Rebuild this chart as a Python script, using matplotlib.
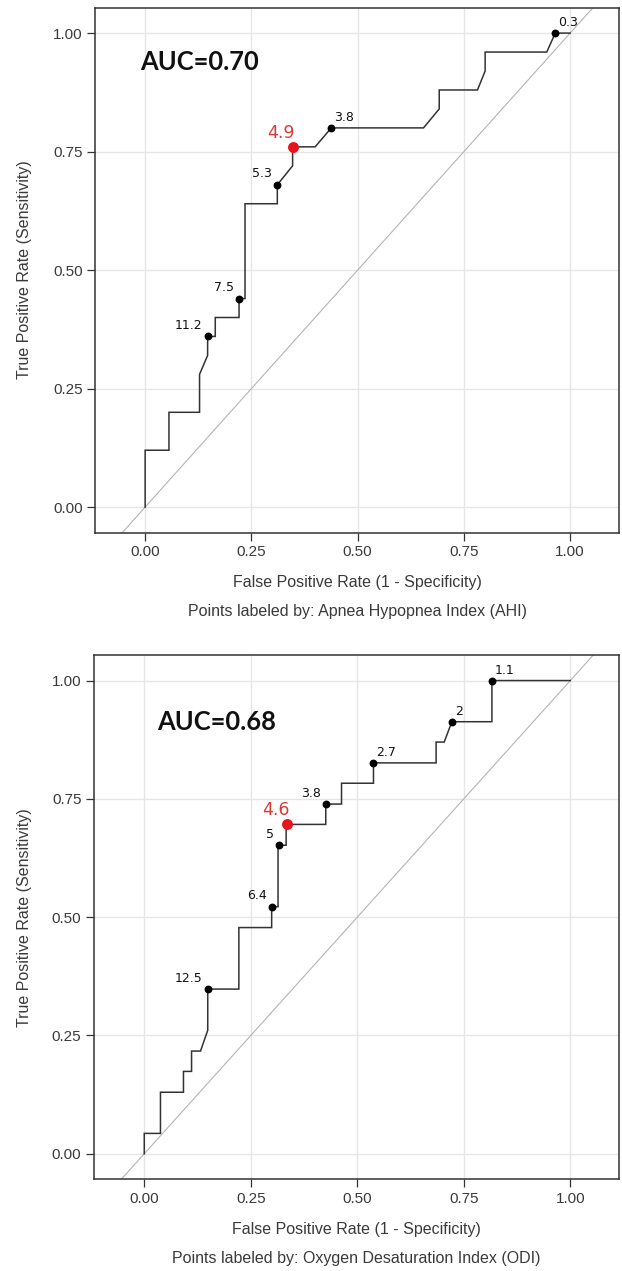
import matplotlib
matplotlib.use("Agg")
import matplotlib.pyplot as plt
from matplotlib.lines import Line2D

# ---------------- data ----------------
# Panel 1: Apnea Hypopnea Index (AHI)
fpr_ahi = [0, 0, 0.056, 0.056, 0.128, 0.128, 0.147, 0.147, 0.165, 0.165, 0.221, 0.221,
           0.235, 0.235, 0.311, 0.311, 0.347, 0.347, 0.40, 0.438, 0.655, 0.692, 0.692,
           0.782, 0.80, 0.80, 0.945, 0.965, 1.0]
tpr_ahi = [0, 0.12, 0.12, 0.20, 0.20, 0.28, 0.32, 0.36, 0.36, 0.40, 0.40, 0.44,
           0.44, 0.64, 0.64, 0.68, 0.72, 0.76, 0.76, 0.80, 0.80, 0.84, 0.88,
           0.88, 0.92, 0.96, 0.96, 1.0, 1.0]
lab_fpr_ahi = [0.147, 0.221, 0.311, 0.438, 0.965]
lab_tpr_ahi = [0.36, 0.44, 0.68, 0.80, 1.0]
lab_txt_ahi = ["11.2", "7.5", "5.3", "3.8", "0.3"]
opt_fpr_ahi, opt_tpr_ahi, opt_txt_ahi = 0.347, 0.76, "4.9"
auc_ahi = "AUC=0.70"
sub_ahi = "Points labeled by: Apnea Hypopnea Index (AHI)"

# Panel 2: Oxygen Desaturation Index (ODI)
fpr_odi = [0, 0, 0.038, 0.038, 0.092, 0.092, 0.111, 0.111, 0.132, 0.149, 0.149, 0.222,
           0.222, 0.299, 0.299, 0.314, 0.314, 0.333, 0.333, 0.426, 0.426, 0.463, 0.463,
           0.538, 0.538, 0.685, 0.685, 0.704, 0.722, 0.816, 0.816, 1.0]
tpr_odi = [0, 0.043, 0.043, 0.130, 0.130, 0.174, 0.174, 0.217, 0.217, 0.261, 0.348, 0.348,
           0.478, 0.478, 0.522, 0.522, 0.652, 0.652, 0.696, 0.696, 0.739, 0.739, 0.783,
           0.783, 0.826, 0.826, 0.870, 0.870, 0.913, 0.913, 1.0, 1.0]
lab_fpr_odi = [0.149, 0.299, 0.316, 0.426, 0.538, 0.722, 0.816]
lab_tpr_odi = [0.348, 0.522, 0.652, 0.739, 0.826, 0.913, 1.0]
lab_txt_odi = ["12.5", "6.4", "5", "3.8", "2.7", "2", "1.1"]
opt_fpr_odi, opt_tpr_odi, opt_txt_odi = 0.336, 0.696, "4.6"
auc_odi = "AUC=0.68"
sub_odi = "Points labeled by: Oxygen Desaturation Index (ODI)"

ticks = [0.0, 0.25, 0.5, 0.75, 1.0]
tick_labels = ["0.00", "0.25", "0.50", "0.75", "1.00"]

# ---------------- figure ----------------
W, H = 622, 1271
fig = plt.figure(figsize=(W / 100, H / 100), dpi=100)

def px_axes(l, t, r, b):
    return [l / W, 1 - b / H, (r - l) / W, (b - t) / H]

LINE = "#333333"
GRID = "#e6e6e6"
DIAG = "#b4b4b4"
RED = "#e8141c"
RED_TXT = "#d93a35"
TXTC = "#3a3a3a"
PX = 0.72  # points per pixel

def panel(rect, fpr, tpr, lfpr, ltpr, ltxt, ofpr, otpr, otxt, auc, auc_xy, sub,
          right_labels):
    ax = fig.add_axes(px_axes(*rect))
    ax.set_xlim(-0.118, 1.115)
    ax.set_ylim(-0.054, 1.054)
    ax.set_xticks(ticks)
    ax.set_xticklabels(tick_labels)
    ax.set_yticks(ticks)
    ax.set_yticklabels(tick_labels)
    ax.grid(True, color=GRID, linewidth=1.0, zorder=0)
    ax.set_axisbelow(True)
    for s in ax.spines.values():
        s.set_color(LINE)
        s.set_linewidth(1.1)
    ax.tick_params(direction="out", length=6, width=0.9, color=LINE,
                   labelsize=11, labelcolor=TXTC, pad=3)
    for lab in ax.get_xticklabels() + ax.get_yticklabels():
        lab.set_family("Liberation Sans")
    # reference diagonal
    ax.add_line(Line2D([-0.3, 1.3], [-0.3, 1.3], color=DIAG, linewidth=0.8, zorder=1))
    # ROC curve
    ax.plot(fpr, tpr, color=LINE, linewidth=1.1, zorder=2, solid_joinstyle="miter")
    ax.scatter(lfpr, ltpr, s=32, color="black", zorder=3, linewidths=0)
    for x, y, t in zip(lfpr, ltpr, ltxt):
        if t in right_labels:
            ax.annotate(t, (x, y), xytext=(3 * PX, 10.5 * PX), textcoords="offset points",
                        ha="left", va="center", fontsize=9, color="#111111",
                        family="DejaVu Sans", zorder=4)
        else:
            ax.annotate(t, (x, y), xytext=(-5 * PX, 11 * PX), textcoords="offset points",
                        ha="right", va="center", fontsize=9, color="#111111",
                        family="DejaVu Sans", zorder=4)
    ax.scatter([ofpr], [otpr], s=62, color=RED, zorder=3, linewidths=0)
    ax.annotate(otxt, (ofpr, otpr), xytext=(2 * PX, 14 * PX), textcoords="offset points",
                ha="right", va="center", fontsize=12.5, color=RED_TXT,
                family="DejaVu Sans", zorder=4)
    ax.text(auc_xy[0], auc_xy[1], auc, ha="left", va="center", fontsize=18.4,
            fontweight="bold", family="Lato", color="#111111", zorder=4)
    ax.set_ylabel("True Positive Rate (Sensitivity)", fontsize=11.5, color=TXTC,
                  family="Liberation Sans")
    ax.yaxis.set_label_coords((32 - rect[0]) / (rect[2] - rect[0]), 0.5)
    cx = (rect[0] + rect[2]) / 2 / W
    fig.text(cx, 1 - (rect[3] + 50) / H, "False Positive Rate (1 - Specificity)",
             ha="center", va="center", fontsize=11.5, color=TXTC, family="Liberation Sans")
    fig.text(cx, 1 - (rect[3] + 79) / H, sub, ha="center", va="center",
             fontsize=11.5, color=TXTC, family="Liberation Sans")
    return ax

panel((95, 7.5, 619, 532.7), fpr_ahi, tpr_ahi, lab_fpr_ahi, lab_tpr_ahi, lab_txt_ahi,
      opt_fpr_ahi, opt_tpr_ahi, opt_txt_ahi, auc_ahi, (-0.012, 0.94), sub_ahi,
      right_labels={"3.8", "0.3"})
panel((94, 655, 619.3, 1179.3), fpr_odi, tpr_odi, lab_fpr_odi, lab_tpr_odi, lab_txt_odi,
      opt_fpr_odi, opt_tpr_odi, opt_txt_odi, auc_odi, (0.03, 0.912), sub_odi,
      right_labels={"2.7", "2", "1.1"})

fig.savefig("out.png", dpi=100)
